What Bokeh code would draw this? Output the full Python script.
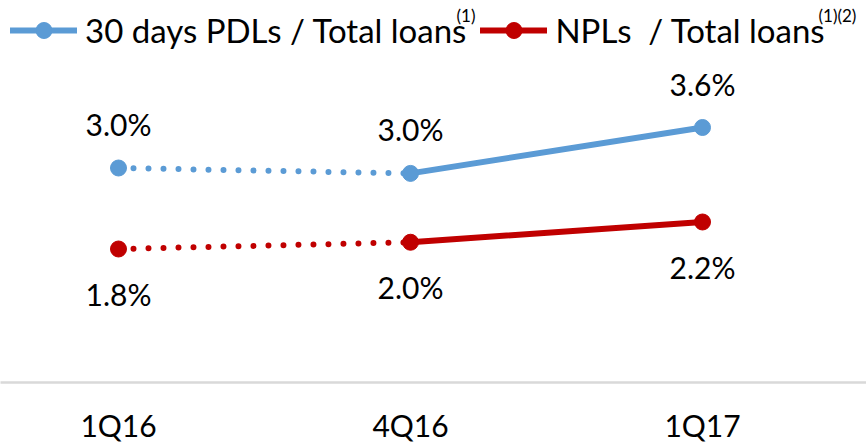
from bokeh.plotting import figure
from bokeh.models import (Range1d, FixedTicker, LabelSet, Label, Legend, LegendItem,
                          ColumnDataSource)
from bokeh.core.properties import value
from bokeh.embed import file_html
from bokeh.resources import INLINE

# ---- data ----
quarters = ["1Q16", "4Q16", "1Q17"]
pdl = [3.0, 2.92, 3.6]
npl = [1.8, 1.9, 2.2]
pdl_labels = ["3.0%", "3.0%", "3.6%"]
npl_labels = ["1.8%", "2.0%", "2.2%"]
series_names = ["30 days PDLs / Total loans", "NPLs  / Total loans"]
series_notes = ["(1)", "(1)(2)"]

BLUE = "#5B9BD5"
RED = "#C00000"
FONT = "Lato"

xs = list(range(len(quarters)))

p = figure(width=866, height=446, output_backend="svg", toolbar_location=None,
           x_range=Range1d(-0.4041, 2.5616), y_range=Range1d(-0.1778, 5.4815),
           y_axis_location=None, min_border_left=0, min_border_right=0,
           min_border_top=0, min_border_bottom=64)
p.outline_line_color = None
p.xgrid.visible = False
p.ygrid.visible = False
p.background_fill_color = None
p.border_fill_color = "white"

ax = p.xaxis[0]
ax.ticker = FixedTicker(ticks=xs)
ax.major_label_overrides = {i: q for i, q in zip(xs, quarters)}
ax.axis_line_color = "#D9D9D9"
ax.axis_line_width = 2.5
ax.major_tick_line_color = None
ax.minor_tick_line_color = None
ax.major_tick_out = 0
ax.major_tick_in = 0
ax.major_label_standoff = 24
ax.major_label_text_font = FONT
ax.major_label_text_font_size = "30px"
ax.major_label_text_color = "black"

legend_items = []
for vals, labels, color, name, off in [(pdl, pdl_labels, BLUE, series_names[0], 44),
                                       (npl, npl_labels, RED, series_names[1], -45)]:
    # dotted part: first to second point
    p.line(xs[0:2], vals[0:2], line_color=color, line_width=6, line_dash="0 15",
           line_cap="round")
    solid = p.line(xs[1:], vals[1:], line_color=color, line_width=6, line_cap="round")
    dots = p.scatter(xs, vals, size=16, fill_color=color, line_color=color)
    src = ColumnDataSource(dict(x=xs, y=vals, t=labels))
    p.add_layout(LabelSet(x="x", y="y", text="t", source=src, y_offset=off,
                          text_align="center", text_baseline="middle",
                          text_font=value(FONT), text_font_size="30px",
                          text_color="black"))
    legend_items.append(LegendItem(label=name, renderers=[solid, dots]))

legend = Legend(items=legend_items, location="top_left", orientation="horizontal",
                margin=10, padding=0, spacing=14, label_standoff=8,
                glyph_width=67, glyph_height=40,
                label_text_font=FONT, label_text_font_size="33px",
                label_text_color="black", border_line_color=None,
                background_fill_alpha=0)
p.add_layout(legend, "center")

for note, sx in zip(series_notes, [456, 818]):
    p.add_layout(Label(x=sx, y=367, x_units="screen", y_units="screen", text=note,
                       text_font=FONT, text_font_size="17px", text_color="black",
                       text_baseline="middle"))

open("out.html", "w").write(file_html(p, INLINE))
